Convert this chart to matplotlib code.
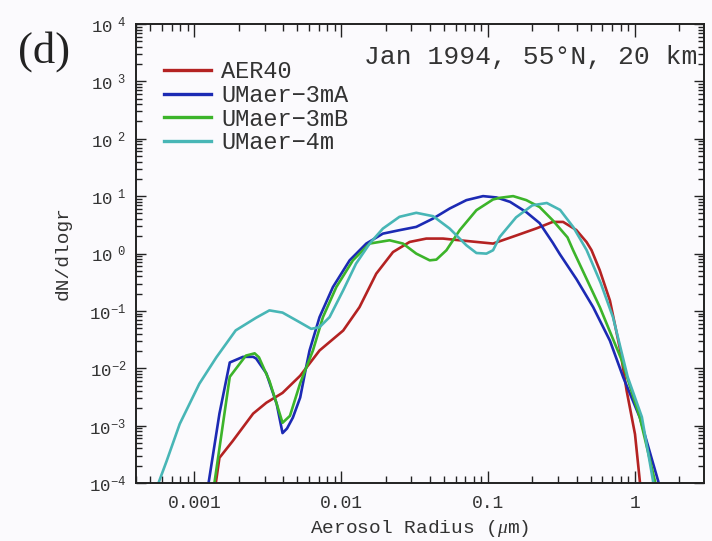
import matplotlib
matplotlib.use('Agg')
import matplotlib.pyplot as plt
from matplotlib.ticker import LogLocator, FuncFormatter, FixedLocator
import numpy as np

# aerosol radius (um) and dN/dlogr, one pair of lists per model
r_aer = [1.38e-3, 1.48e-3, 1.82e-3, 2.51e-3, 3.09e-3, 3.98e-3, 5.25e-3, 7.11e-3, 1.03e-2, 1.33e-2,
         1.73e-2, 2.25e-2, 2.92e-2, 3.79e-2, 4.93e-2, 6.40e-2, 8.32e-2, 0.108, 0.158, 0.214,
         0.275, 0.324, 0.398, 0.468, 0.506, 0.575, 0.675, 0.794, 0.877, 1.0,
         1.079, 1.089]
n_aer = [7.9e-5, 2.75e-4, 5.37e-4, 1.62e-3, 2.51e-3, 3.72e-3, 7.41e-3, 2.04e-2, 4.54e-2, 0.116,
         0.445, 1.06, 1.59, 1.82, 1.82, 1.70, 1.59, 1.49, 2.09, 2.75,
         3.55, 3.55, 2.57, 1.58, 1.14, 0.513, 0.151, 2.04e-2, 4.07e-3, 7.08e-4,
         1.07e-4, 7.9e-5]

r_3ma = [1.23e-3, 1.48e-3, 1.74e-3, 2.14e-3, 2.51e-3, 2.63e-3, 3.09e-3, 3.63e-3, 3.98e-3, 4.27e-3,
         4.68e-3, 5.25e-3, 5.75e-3, 6.08e-3, 7.11e-3, 8.77e-3, 1.14e-2, 1.48e-2, 1.92e-2, 2.49e-2,
         3.24e-2, 4.22e-2, 5.47e-2, 7.11e-2, 9.23e-2, 0.114, 0.141, 0.182, 0.224, 0.275,
         0.308, 0.400, 0.519, 0.675, 0.832, 1.079, 1.44, 1.47]
n_3ma = [7.9e-5, 1.62e-3, 1.26e-2, 1.58e-2, 1.58e-2, 1.48e-2, 8.13e-3, 2.40e-3, 7.41e-4, 8.91e-4,
         1.38e-3, 3.09e-3, 1.02e-2, 2.04e-2, 7.78e-2, 0.260, 0.760, 1.49, 2.22, 2.55,
         2.91, 4.07, 6.08, 8.51, 10.0, 9.48, 7.94, 5.25, 3.39, 1.55,
         0.97, 0.355, 0.116, 3.02e-2, 6.92e-3, 1.38e-3, 1.07e-4, 7.9e-5]

r_3mb = [1.35e-3, 1.66e-3, 1.74e-3, 2.24e-3, 2.57e-3, 2.75e-3, 3.24e-3, 3.63e-3, 3.98e-3, 4.47e-3,
         5.25e-3, 6.41e-3, 7.50e-3, 9.25e-3, 1.20e-2, 1.56e-2, 2.13e-2, 2.63e-2, 3.24e-2, 4.00e-2,
         4.44e-2, 5.20e-2, 6.40e-2, 8.32e-2, 0.108, 0.120, 0.148, 0.182, 0.224, 0.275,
         0.347, 0.379, 0.577, 0.815, 1.079, 1.368, 1.40]
n_3mb = [7.9e-5, 3.09e-3, 7.08e-3, 1.66e-2, 1.82e-2, 1.55e-2, 6.03e-3, 2.40e-3, 1.12e-3, 1.48e-3,
         5.5e-3, 2.04e-2, 7.78e-2, 0.260, 0.760, 1.49, 1.70, 1.49, 0.995, 0.760,
         0.782, 1.14, 2.55, 5.69, 8.75, 9.33, 10.0, 8.51, 6.46, 3.80,
         1.91, 1.14, 0.115, 1.35e-2, 1.38e-3, 1.07e-4, 7.9e-5]

r_4m = [5.50e-4, 6.46e-4, 7.94e-4, 1.08e-3, 1.41e-3, 1.91e-3, 2.63e-3, 3.24e-3, 3.98e-3, 5.20e-3,
        6.24e-3, 7.11e-3, 8.32e-3, 1.03e-2, 1.26e-2, 1.56e-2, 1.92e-2, 2.49e-2, 3.24e-2, 4.22e-2,
        5.47e-2, 7.11e-2, 8.32e-2, 9.73e-2, 0.108, 0.120, 0.155, 0.200, 0.251, 0.309,
        0.380, 0.468, 0.583, 0.708, 0.891, 1.114, 1.324, 1.35]
n_4m = [7.9e-5, 2.40e-4, 1.07e-3, 5.37e-3, 1.55e-2, 4.57e-2, 7.59e-2, 0.102, 9.33e-2, 6.35e-2,
        4.86e-2, 5.20e-2, 7.78e-2, 0.228, 0.665, 1.49, 2.72, 4.36, 5.12, 4.47,
        2.72, 1.39, 1.02, 0.995, 1.14, 1.95, 4.27, 6.92, 7.59, 5.75,
        2.88, 1.15, 0.309, 7.76e-2, 7.08e-3, 1.41e-3, 1.12e-4, 7.9e-5]

x_ticks = [1e-3, 1e-2, 1e-1, 1]
x_ticklabels = ['0.001', '0.01', '0.1', '1']
y_exponents = [-4, -3, -2, -1, 0, 1, 2, 3, 4]

series = [
    ('AER40', r_aer, n_aer, '#b42222'),
    ('UMaer\u22123mA', r_3ma, n_3ma, '#1c2ab4'),
    ('UMaer\u22123mB', r_3mb, n_3mb, '#3cb42a'),
    ('UMaer\u22124m', r_4m, n_4m, '#48b6b6'),
]

plt.rcParams['font.family'] = ['Liberation Mono', 'DejaVu Sans']
plt.rcParams['mathtext.fontset'] = 'custom'
plt.rcParams['mathtext.rm'] = 'Liberation Mono'
plt.rcParams['mathtext.it'] = 'Liberation Serif:italic'
plt.rcParams['text.color'] = '#333333'
plt.rcParams['axes.labelcolor'] = '#333333'

bg = '#fbfafd'
fig = plt.figure(figsize=(7.12, 5.41), dpi=100, facecolor=bg)
ax = fig.add_axes([136/712, 1 - 483/541, (704 - 136)/712, (483 - 24)/541])
ax.set_facecolor(bg)

for name, r, n, col in series:
    ax.plot(r, n, color=col, lw=1.9, label=name, solid_joinstyle='round')

ax.set_xscale('log')
ax.set_yscale('log')
ax.set_xlim(4e-4, 2.95)
ax.set_ylim(1e-4, 1e4)

ax.set_xticks(x_ticks)
ax.set_xticklabels(x_ticklabels)
ax.xaxis.set_minor_locator(LogLocator(base=10, subs=np.arange(2, 10), numticks=20))
ax.xaxis.set_minor_formatter(FuncFormatter(lambda v, p: ''))

# y labels: "10" with raised exponent, a gap before positive ones as in the original
ylabels = []
for e in y_exponents:
    if e >= 0:
        ylabels.append(r'$\mathregular{10^{\ \ %d}}$' % e)
    else:
        ylabels.append(r'$\mathregular{10^{%d}}$' % e)
ax.yaxis.set_major_locator(FixedLocator([10.0 ** e for e in y_exponents]))
ax.set_yticklabels(ylabels)
ax.yaxis.set_minor_locator(LogLocator(base=10, subs=np.arange(2, 10), numticks=20))
ax.yaxis.set_minor_formatter(FuncFormatter(lambda v, p: ''))

ax.tick_params(axis='both', which='both', direction='in', top=True, right=True,
               colors='#222222', labelcolor='#333333', width=1.0)
ax.tick_params(axis='x', which='major', length=9, labelsize=13, pad=9)
ax.tick_params(axis='x', which='minor', length=5)
ax.tick_params(axis='y', which='major', length=7, labelsize=12.5, pad=7)
ax.tick_params(axis='y', which='minor', length=4.5)
for s in ax.spines.values():
    s.set_linewidth(1.4)
    s.set_color('#222222')

ax.set_xlabel(r'Aerosol Radius ($\mu$m)', fontsize=14, labelpad=4)
ax.set_ylabel('dN/dlogr', fontsize=14, labelpad=13)

ax.text(0.988, 0.912, 'Jan 1994, 55\u00b0N, 20 km', transform=ax.transAxes,
        ha='right', va='baseline', fontsize=19)
fig.text(44/712, 1 - 52/541, '(d)', ha='center', va='center', fontsize=32,
         family='Liberation Serif', color='#222222')

leg = ax.legend(loc='upper left', bbox_to_anchor=(0.049, 0.921), frameon=False,
                fontsize=17, handlelength=2.0, handletextpad=0.42, labelspacing=0.03,
                borderaxespad=0, borderpad=0)
for line in leg.get_lines():
    line.set_linewidth(2.4)

plt.savefig('out.png', dpi=100, facecolor=bg)
plt.close()
